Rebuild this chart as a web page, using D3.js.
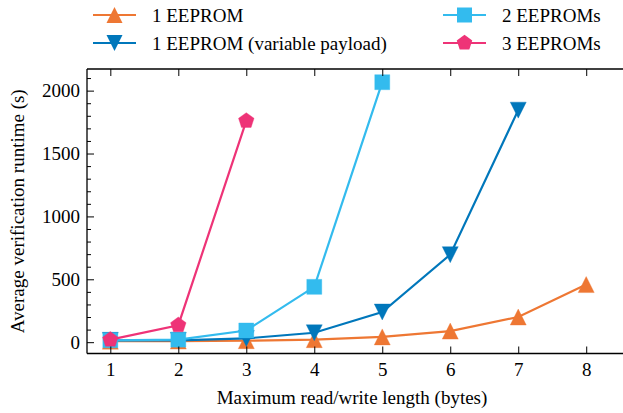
<!DOCTYPE html>
<html><head><meta charset="utf-8">
<script src="https://cdn.jsdelivr.net/npm/d3@7"></script>
<style>body{margin:0;background:#fff}svg{display:block}</style>
</head><body><svg id="c" width="623" height="413"></svg>
<script>
const xValues = [1, 2, 3, 4, 5, 6, 7, 8];
const oneEeprom = [8, 9, 12, 20, 42, 88, 200, 458];
const oneEepromVar = [15, 15, 30, 75, 240, 696, 1845];
const twoEeproms = [15, 20, 93, 440, 2067];
const threeEeproms = [20, 135, 1760];
const seriesNames = ["1 EEPROM", "1 EEPROM (variable payload)", "2 EEPROMs", "3 EEPROMs"];
const xTicks = [1, 2, 3, 4, 5, 6, 7, 8];
const yTicks = [0, 500, 1000, 1500, 2000];

const series = [
  {name: seriesNames[0], vals: oneEeprom, color: "#EE7733", marker: "tri-up"},
  {name: seriesNames[1], vals: oneEepromVar, color: "#0077BB", marker: "tri-down"},
  {name: seriesNames[2], vals: twoEeproms, color: "#33BBEE", marker: "square"},
  {name: seriesNames[3], vals: threeEeproms, color: "#EE3377", marker: "pentagon"}
];

const FONT = '"Liberation Serif"';
const FS = 19;
const svg = d3.select("#c");
const L = 87, R = 627, T = 69, B = 353.5;
const x = d3.scaleLinear().domain([0.657, 8.6]).range([L, R]);
const y = d3.scaleLinear().domain([-90, 2172]).range([B, T]);

function markerPath(type, s) {
  const h = s / 2;
  if (type === "tri-up") return `M0,${-h}L${h},${h}L${-h},${h}Z`;
  if (type === "tri-down") return `M0,${h}L${h},${-h}L${-h},${-h}Z`;
  if (type === "square") return `M${-h},${-h}H${h}V${h}H${-h}Z`;
  const pts = [];
  for (let i = 0; i < 5; i++) {
    const a = -Math.PI / 2 + i * 2 * Math.PI / 5;
    pts.push([h * 1.02 * Math.cos(a), h * 1.02 * Math.sin(a)]);
  }
  return "M" + pts.map(p => p.join(",")).join("L") + "Z";
}
const msize = {"tri-up": 16, "tri-down": 16, "square": 15, "pentagon": 16};

const plot = svg.append("g");
const line = d3.line().x((d, i) => x(xValues[i])).y(d => y(d));
series.forEach(s => {
  plot.append("path").datum(s.vals).attr("d", line)
    .attr("fill", "none").attr("stroke", s.color).attr("stroke-width", 2.2);
  plot.selectAll(null).data(s.vals).enter().append("path")
    .attr("transform", (d, i) => `translate(${x(xValues[i])},${y(d)})`)
    .attr("d", markerPath(s.marker, msize[s.marker]))
    .attr("fill", s.color).attr("stroke", s.color).attr("stroke-width", 0.6).attr("stroke-opacity", 0.6);
});

// axes frame
const ax = svg.append("g");
ax.append("line").attr("x1", L).attr("x2", 623).attr("y1", T).attr("y2", T).attr("stroke", "#000").attr("stroke-width", 1.3);
ax.append("line").attr("x1", L).attr("x2", 623).attr("y1", B).attr("y2", B).attr("stroke", "#000").attr("stroke-width", 1.3);
ax.append("line").attr("x1", L).attr("x2", L).attr("y1", T).attr("y2", B).attr("stroke", "#000").attr("stroke-width", 1.3);

// x ticks (bottom and top, inward)
const gxb = svg.append("g").attr("transform", `translate(0,${B})`)
  .call(d3.axisBottom(x).tickValues(xTicks).tickSize(-7).tickPadding(9).tickFormat(d3.format("d")));
gxb.select(".domain").remove();
gxb.selectAll("text").style("font-family", FONT).style("font-size", FS + "px");
const gxt = svg.append("g").attr("transform", `translate(0,${T})`)
  .call(d3.axisTop(x).tickValues(xTicks).tickSize(-7).tickFormat(""));
gxt.select(".domain").remove();

// y ticks
const gy = svg.append("g").attr("transform", `translate(${L},0)`)
  .call(d3.axisLeft(y).tickValues(yTicks).tickSize(-7).tickPadding(7).tickFormat(d3.format("d")));
gy.select(".domain").remove();
gy.selectAll("text").style("font-family", FONT).style("font-size", FS + "px");
const minor = d3.range(100, 2200, 100).filter(v => v % 500 !== 0);
const gym = svg.append("g").attr("transform", `translate(${L},0)`)
  .call(d3.axisLeft(y).tickValues(minor).tickSize(-4).tickFormat(""));
gym.select(".domain").remove();

// axis labels
svg.append("text").attr("x", (L + 623) / 2 - 3).attr("y", 404).attr("text-anchor", "middle")
  .style("font-family", FONT).style("font-size", FS + "px").text("Maximum read/write length (bytes)");
svg.append("text").attr("transform", `translate(24,${(T + B) / 2}) rotate(-90)`).attr("text-anchor", "middle")
  .style("font-family", FONT).style("font-size", FS + "px").text("Average verification runtime (s)");

// legend
const legPos = [[93, 15], [93, 43], [443, 15], [443, 43]];
series.forEach((s, i) => {
  const [lx, ly] = legPos[i];
  const g = svg.append("g").attr("transform", `translate(${lx},${ly})`);
  g.append("line").attr("x1", 0).attr("x2", 43).attr("stroke", s.color).attr("stroke-width", 2.2);
  g.append("path").attr("transform", "translate(21.5,0)").attr("d", markerPath(s.marker, msize[s.marker]))
    .attr("fill", s.color);
  g.append("text").attr("x", 59).attr("y", 6.5).style("font-family", FONT).style("font-size", FS + "px").text(s.name);
});
</script></body></html>
